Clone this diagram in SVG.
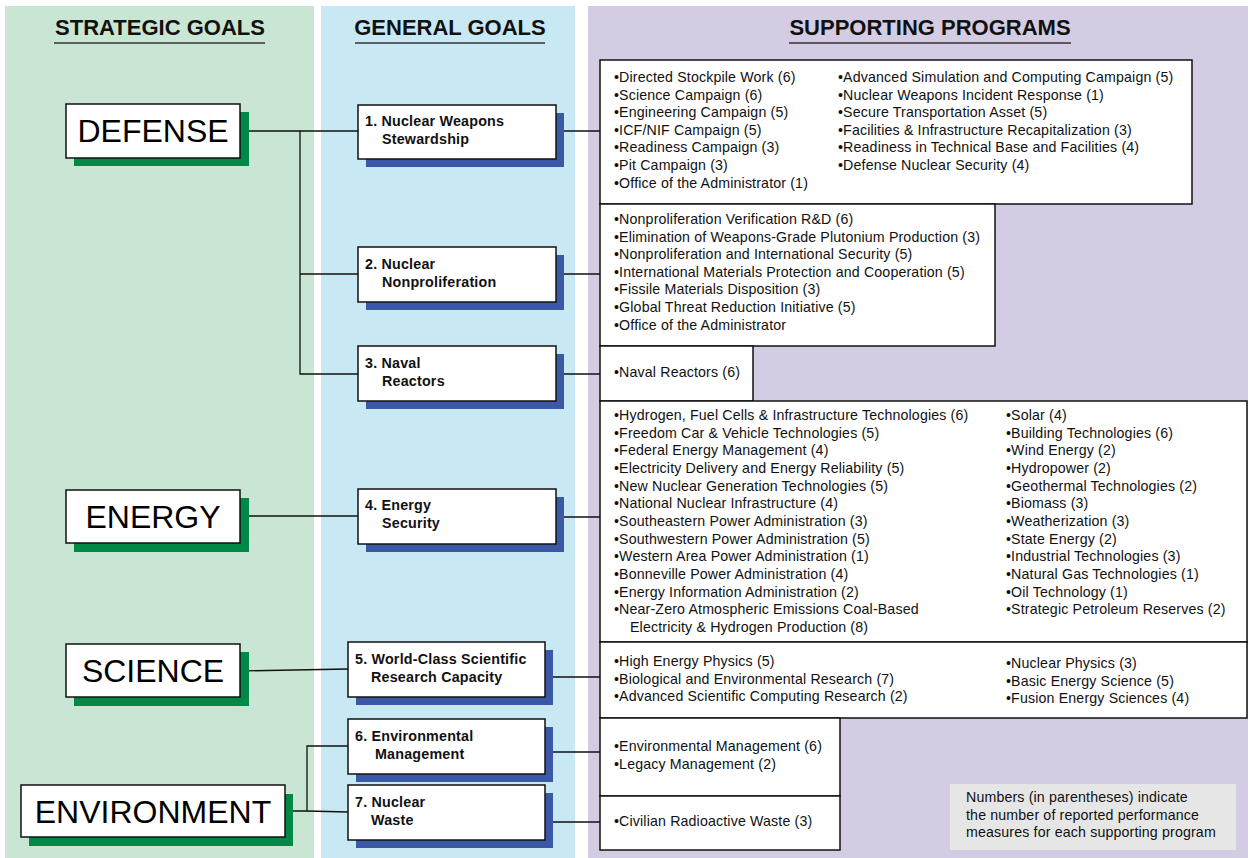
<svg xmlns="http://www.w3.org/2000/svg" width="1248" height="858" viewBox="0 0 1248 858">
<style>
.hdr{font-family:"Liberation Sans",Arial,sans-serif;font-weight:bold;font-size:22px;fill:#111;text-anchor:middle}
.ul{stroke:#333;stroke-width:1.5}
.sg{font-family:"Liberation Sans",Arial,sans-serif;font-size:32px;fill:#000;text-anchor:middle}
.gg{font-family:"Liberation Sans",Arial,sans-serif;font-weight:bold;font-size:14.3px;letter-spacing:0.2px;fill:#111}
.pt{font-family:"Liberation Sans",Arial,sans-serif;font-size:14.2px;letter-spacing:0.15px;fill:#111}
.box{fill:#fff;stroke:#111;stroke-width:1.5}
.gsh{fill:#008846}
.bsh{fill:#3a58a5}
.con{stroke:#111;stroke-width:1.3;fill:none}
</style>
<rect x="5" y="6" width="309" height="852" fill="#c9e6d5"/>
<rect x="321" y="6" width="254" height="852" fill="#c8e8f4"/>
<rect x="588" y="6" width="660" height="852" fill="#d3cce3"/>
<g id="headers">
<text class="hdr" x="160" y="35">STRATEGIC GOALS</text>
<line class="ul" x1="54" y1="43" x2="265" y2="43"/>
<text class="hdr" x="450" y="35">GENERAL GOALS</text>
<line class="ul" x1="355" y1="43" x2="545" y2="43"/>
<text class="hdr" x="930" y="35">SUPPORTING PROGRAMS</text>
<line class="ul" x1="789" y1="43" x2="1071" y2="43"/>
</g>
<g id="connectors">
<polyline class="con" points="240,131 300,131 300,374 358,374"/>
<line class="con" x1="300" y1="131" x2="358" y2="131"/>
<line class="con" x1="300" y1="274" x2="358" y2="274"/>
<line class="con" x1="240" y1="516" x2="358" y2="516"/>
<line class="con" x1="240" y1="671" x2="348" y2="669"/>
<polyline class="con" points="285,811 307,811 307,746 348,746"/>
<line class="con" x1="307" y1="811" x2="348" y2="812"/>
<line class="con" x1="556" y1="131" x2="600" y2="131"/>
<line class="con" x1="556" y1="274" x2="600" y2="274"/>
<line class="con" x1="556" y1="374" x2="600" y2="374"/>
<line class="con" x1="556" y1="517" x2="600" y2="517"/>
<line class="con" x1="545" y1="677" x2="600" y2="677"/>
<line class="con" x1="545" y1="752" x2="600" y2="752"/>
<line class="con" x1="545" y1="822" x2="600" y2="822"/>
</g>
<g id="defense">
<rect class="gsh" x="74" y="112" width="175" height="54"/>
<rect class="box" x="66" y="104" width="174" height="54"/>
<text class="sg" x="153" y="142">DEFENSE</text>
</g>
<g id="energy">
<rect class="gsh" x="74" y="498" width="175" height="54"/>
<rect class="box" x="66" y="490" width="174" height="53"/>
<text class="sg" x="153" y="528">ENERGY</text>
</g>
<g id="science">
<rect class="gsh" x="74" y="652" width="175" height="54"/>
<rect class="box" x="66" y="644" width="174" height="53"/>
<text class="sg" x="153" y="682">SCIENCE</text>
</g>
<g id="environment">
<rect class="gsh" x="29" y="794" width="264" height="52"/>
<rect class="box" x="21" y="785" width="264" height="52"/>
<text class="sg" x="153" y="823">ENVIRONMENT</text>
</g>
<g id="goal1">
<rect class="bsh" x="366" y="113" width="198" height="54"/>
<rect class="box" x="358" y="105" width="198" height="54"/>
<text class="gg" x="365" y="126">1. Nuclear Weapons</text>
<text class="gg" x="382" y="144">Stewardship</text>
</g>
<g id="goal2">
<rect class="bsh" x="366" y="255" width="198" height="55"/>
<rect class="box" x="358" y="247" width="198" height="55"/>
<text class="gg" x="365" y="269">2. Nuclear</text>
<text class="gg" x="382" y="287">Nonproliferation</text>
</g>
<g id="goal3">
<rect class="bsh" x="366" y="354" width="198" height="55"/>
<rect class="box" x="358" y="346" width="198" height="55"/>
<text class="gg" x="365" y="368">3. Naval</text>
<text class="gg" x="382" y="386">Reactors</text>
</g>
<g id="goal4">
<rect class="bsh" x="366" y="497" width="198" height="55"/>
<rect class="box" x="358" y="489" width="198" height="55"/>
<text class="gg" x="365" y="510">4. Energy</text>
<text class="gg" x="382" y="528">Security</text>
</g>
<g id="goal5">
<rect class="bsh" x="356" y="650" width="197" height="55"/>
<rect class="box" x="348" y="642" width="197" height="55"/>
<text class="gg" x="355" y="664">5. World-Class Scientific</text>
<text class="gg" x="371" y="682">Research Capacity</text>
</g>
<g id="goal6">
<rect class="bsh" x="356" y="727" width="197" height="55"/>
<rect class="box" x="348" y="719" width="197" height="55"/>
<text class="gg" x="355" y="741">6. Environmental</text>
<text class="gg" x="375" y="759">Management</text>
</g>
<g id="goal7">
<rect class="bsh" x="356" y="793" width="197" height="55"/>
<rect class="box" x="348" y="785" width="197" height="55"/>
<text class="gg" x="355" y="807">7. Nuclear</text>
<text class="gg" x="371" y="825">Waste</text>
</g>
<g id="prog1">
<rect class="box" x="600" y="60" width="592" height="144"/>
<text class="pt" x="614" y="82">•Directed Stockpile Work (6)</text>
<text class="pt" x="614" y="99.6">•Science Campaign (6)</text>
<text class="pt" x="614" y="117.2">•Engineering Campaign (5)</text>
<text class="pt" x="614" y="134.8">•ICF/NIF Campaign (5)</text>
<text class="pt" x="614" y="152.4">•Readiness Campaign (3)</text>
<text class="pt" x="614" y="170">•Pit Campaign (3)</text>
<text class="pt" x="614" y="187.6">•Office of the Administrator (1)</text>
<text class="pt" x="838" y="82">•Advanced Simulation and Computing Campaign (5)</text>
<text class="pt" x="838" y="99.6">•Nuclear Weapons Incident Response (1)</text>
<text class="pt" x="838" y="117.2">•Secure Transportation Asset (5)</text>
<text class="pt" x="838" y="134.8">•Facilities &amp; Infrastructure Recapitalization (3)</text>
<text class="pt" x="838" y="152.4">•Readiness in Technical Base and Facilities (4)</text>
<text class="pt" x="838" y="170">•Defense Nuclear Security (4)</text>
</g>
<g id="prog2">
<rect class="box" x="600" y="204" width="395" height="142"/>
<text class="pt" x="614" y="224">•Nonproliferation Verification R&amp;D (6)</text>
<text class="pt" x="614" y="241.6">•Elimination of Weapons-Grade Plutonium Production (3)</text>
<text class="pt" x="614" y="259.2">•Nonproliferation and International Security (5)</text>
<text class="pt" x="614" y="276.8">•International Materials Protection and Cooperation (5)</text>
<text class="pt" x="614" y="294.4">•Fissile Materials Disposition (3)</text>
<text class="pt" x="614" y="312">•Global Threat Reduction Initiative (5)</text>
<text class="pt" x="614" y="329.6">•Office of the Administrator</text>
</g>
<g id="prog3">
<rect class="box" x="600" y="346" width="153" height="55"/>
<text class="pt" x="614" y="377">•Naval Reactors (6)</text>
</g>
<g id="prog4">
<rect class="box" x="600" y="401" width="647" height="241"/>
<text class="pt" x="614" y="420">•Hydrogen, Fuel Cells &amp; Infrastructure Technologies (6)</text>
<text class="pt" x="614" y="437.7">•Freedom Car &amp; Vehicle Technologies (5)</text>
<text class="pt" x="614" y="455.3">•Federal Energy Management (4)</text>
<text class="pt" x="614" y="473">•Electricity Delivery and Energy Reliability (5)</text>
<text class="pt" x="614" y="490.7">•New Nuclear Generation Technologies (5)</text>
<text class="pt" x="614" y="508.3">•National Nuclear Infrastructure (4)</text>
<text class="pt" x="614" y="526">•Southeastern Power Administration (3)</text>
<text class="pt" x="614" y="543.7">•Southwestern Power Administration (5)</text>
<text class="pt" x="614" y="561.3">•Western Area Power Administration (1)</text>
<text class="pt" x="614" y="579">•Bonneville Power Administration (4)</text>
<text class="pt" x="614" y="596.7">•Energy Information Administration (2)</text>
<text class="pt" x="614" y="614.3">•Near-Zero Atmospheric Emissions Coal-Based</text>
<text class="pt" x="630" y="632">Electricity &amp; Hydrogen Production (8)</text>
<text class="pt" x="1006" y="420">•Solar (4)</text>
<text class="pt" x="1006" y="437.7">•Building Technologies (6)</text>
<text class="pt" x="1006" y="455.3">•Wind Energy (2)</text>
<text class="pt" x="1006" y="473">•Hydropower (2)</text>
<text class="pt" x="1006" y="490.7">•Geothermal Technologies (2)</text>
<text class="pt" x="1006" y="508.3">•Biomass (3)</text>
<text class="pt" x="1006" y="526">•Weatherization (3)</text>
<text class="pt" x="1006" y="543.7">•State Energy (2)</text>
<text class="pt" x="1006" y="561.3">•Industrial Technologies (3)</text>
<text class="pt" x="1006" y="579">•Natural Gas Technologies (1)</text>
<text class="pt" x="1006" y="596.7">•Oil Technology (1)</text>
<text class="pt" x="1006" y="614.3">•Strategic Petroleum Reserves (2)</text>
</g>
<g id="prog5">
<rect class="box" x="600" y="642" width="647" height="76"/>
<text class="pt" x="614" y="666">•High Energy Physics (5)</text>
<text class="pt" x="614" y="683.5">•Biological and Environmental Research (7)</text>
<text class="pt" x="614" y="701">•Advanced Scientific Computing Research (2)</text>
<text class="pt" x="1006" y="668">•Nuclear Physics (3)</text>
<text class="pt" x="1006" y="685.5">•Basic Energy Science (5)</text>
<text class="pt" x="1006" y="703">•Fusion Energy Sciences (4)</text>
</g>
<g id="prog6">
<rect class="box" x="600" y="718" width="240" height="78"/>
<text class="pt" x="614" y="751">•Environmental Management (6)</text>
<text class="pt" x="614" y="769">•Legacy Management (2)</text>
</g>
<g id="prog7">
<rect class="box" x="600" y="796" width="240" height="54"/>
<text class="pt" x="614" y="826">•Civilian Radioactive Waste (3)</text>
</g>
<g id="note">
<rect x="950" y="784" width="286" height="66" fill="#e6e6e6"/>
<text class="pt" x="966" y="802">Numbers (in parentheses) indicate</text>
<text class="pt" x="966" y="819.5">the number of reported performance</text>
<text class="pt" x="966" y="837">measures for each supporting program</text>
</g>
</svg>
